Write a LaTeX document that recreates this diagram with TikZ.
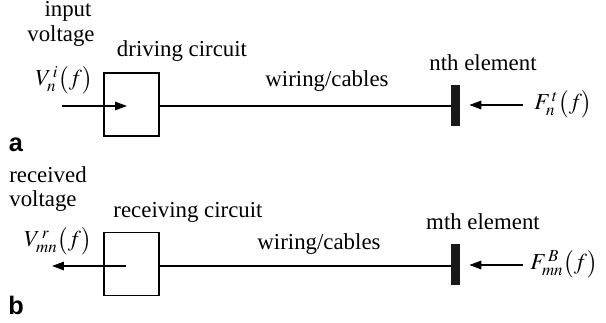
\documentclass[tikz,border=0pt]{standalone}
\usepackage{mathptmx}
\usepackage{fontspec}
\setmainfont{Liberation Serif}
\setsansfont{Liberation Sans}
\usepackage{tikz}
\usetikzlibrary{arrows.meta, positioning, calc}

\tikzset{
    circbox/.style={draw, line width=0.8pt, minimum width=1.1cm, minimum height=1.26cm, inner sep=0pt},
    elembar/.style={fill=black!90, minimum width=0.18cm, minimum height=0.82cm, inner sep=0pt},
    sig/.style={line width=0.8pt, -{Triangle[length=2.4mm, width=1.7mm]}},
    wire/.style={line width=0.8pt},
    lbl/.style={font=\fontsize{13}{15}\selectfont, inner sep=0pt},
    panel/.style={font=\sffamily\bfseries\Large, inner sep=0pt}
}

\begin{document}
\begin{tikzpicture}[x=0.02cm, y=-0.02cm]
    \useasboundingbox (0,0) rectangle (606,322);
    % panel a
    \node[circbox] (drv) at (131.5,104.5) {};
    \node[elembar] (elemn) at (455.5,105) {};
    \coordinate (inA) at (62,106);
    \coordinate (tipA) at (127,106);
    \coordinate (srcA) at (523,105);
    \draw[sig] (inA) -- (tipA);
    \draw[wire] (drv.east |- tipA) -- (elemn.west |- tipA);
    \draw[sig] (srcA) -- ($(elemn.east |- srcA)+(9,0)$);
    \node[lbl] (inlbl) at (68,11) {input};
    \node[lbl] (vollbl) at (61,36) {voltage};
    \node[lbl] (vin) at (64,80) {$V_n^{\,i}\big(f\big)$};
    \node[lbl] (drvlbl) at (182,51) {driving circuit};
    \node[lbl] (wirea) at (327,81) {wiring/cables};
    \node[lbl] (nlbl) at (483,63) {nth element};
    \node[lbl, anchor=west] (fn) at (534,104) {$F_n^{\,t}\big(f\big)$};
    \node[panel] (pa) at (16,145) {a};
    % panel b
    \node[circbox] (rcv) at (131.5,264) {};
    \node[elembar] (elemm) at (455.5,264.5) {};
    \coordinate (inB) at (126,266);
    \coordinate (tipB) at (52,266);
    \coordinate (srcB) at (523,265);
    \draw[sig] (inB) -- (tipB);
    \draw[wire] (rcv.east |- inB) -- (elemm.west |- inB);
    \draw[sig] (srcB) -- ($(elemm.east |- srcB)+(9,0)$);
    \node[lbl] (rcvlbl1) at (48,175) {received};
    \node[lbl] (rcvlbl2) at (43,201) {voltage};
    \node[lbl] (vout) at (58,241) {$V_{mn}^{\,r}\big(f\big)$};
    \node[lbl] (rcvlbl) at (188,212) {receiving circuit};
    \node[lbl] (wireb) at (319,244) {wiring/cables};
    \node[lbl] (mlbl) at (483,222) {mth element};
    \node[lbl, anchor=west] (fm) at (530,264) {$F_{mn}^{\,B}\big(f\big)$};
    \node[panel] (pb) at (16,305) {b};
\end{tikzpicture}
\end{document}
